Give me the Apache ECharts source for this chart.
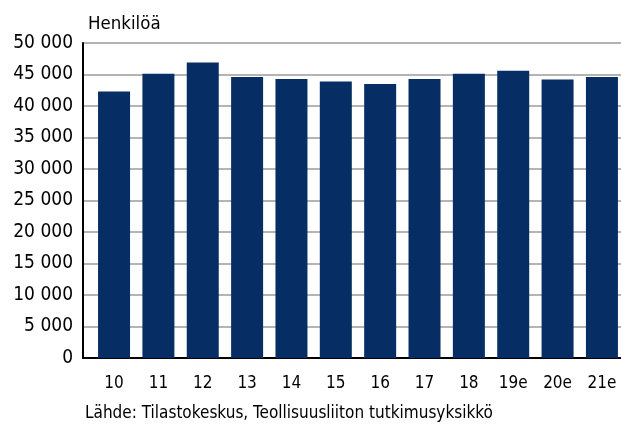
<!DOCTYPE html>
<html><head><meta charset="utf-8">
<script src="https://cdn.jsdelivr.net/npm/echarts@6/dist/echarts.min.js"></script>
<style>html,body{margin:0;padding:0;background:#fff}#c{width:621px;height:426px}</style>
</head><body><div id="c"></div>
<script>
const categories = ['10','11','12','13','14','15','16','17','18','19e','20e','21e'];
const values = [42300, 45100, 46900, 44600, 44300, 43900, 43500, 44300, 45100, 45600, 44200, 44600];
const yTicks = [0, 5000, 10000, 15000, 20000, 25000, 30000, 35000, 40000, 45000, 50000];
const unitLabel = 'Henkilöä';
const sourceText = 'Lähde: Tilastokeskus, Teollisuusliiton tutkimusyksikkö';

const FONT = '"DejaVu Sans Condensed", "DejaVu Sans", sans-serif';
const chart = echarts.init(document.getElementById('c'));
chart.setOption({
  animation: false,
  grid: { left: 83, right: 0, top: 43, bottom: 68 },
  graphic: [
    { type: 'text', left: 88, top: 15, style: { text: unitLabel, font: '18.5px ' + FONT, fill: '#000' } },
    { type: 'text', left: 85, top: 405, style: { text: sourceText, font: '17px ' + FONT, fill: '#000' } }
  ],
  xAxis: {
    type: 'value', min: -0.7, max: 11.43,
    splitLine: { show: false },
    axisLine: { show: true, onZero: false, lineStyle: { color: '#000', width: 2 } },
    axisTick: { show: false },
    axisLabel: {
      customValues: categories.map((c, i) => i),
      formatter: v => categories[Math.round(v)] || '',
      margin: 17, color: '#000', fontSize: 17, fontFamily: FONT
    }
  },
  yAxis: {
    type: 'value', min: 0, max: 50000, interval: 5000,
    axisLine: { show: true, onZero: false, lineStyle: { color: '#000', width: 2 } },
    axisTick: { show: false },
    splitLine: { lineStyle: { color: '#b4b4b4', width: 2 } },
    axisLabel: {
      customValues: yTicks,
      formatter: v => String(v).replace(/\B(?=(\d{3})+(?!\d))/g, ' '),
      margin: 10, color: '#000', fontSize: 19, fontFamily: FONT
    }
  },
  series: [{
    type: 'bar', barWidth: 32,
    itemStyle: { color: '#062e64' },
    data: values.map((v, i) => [i, v])
  }]
});
</script></body></html>
